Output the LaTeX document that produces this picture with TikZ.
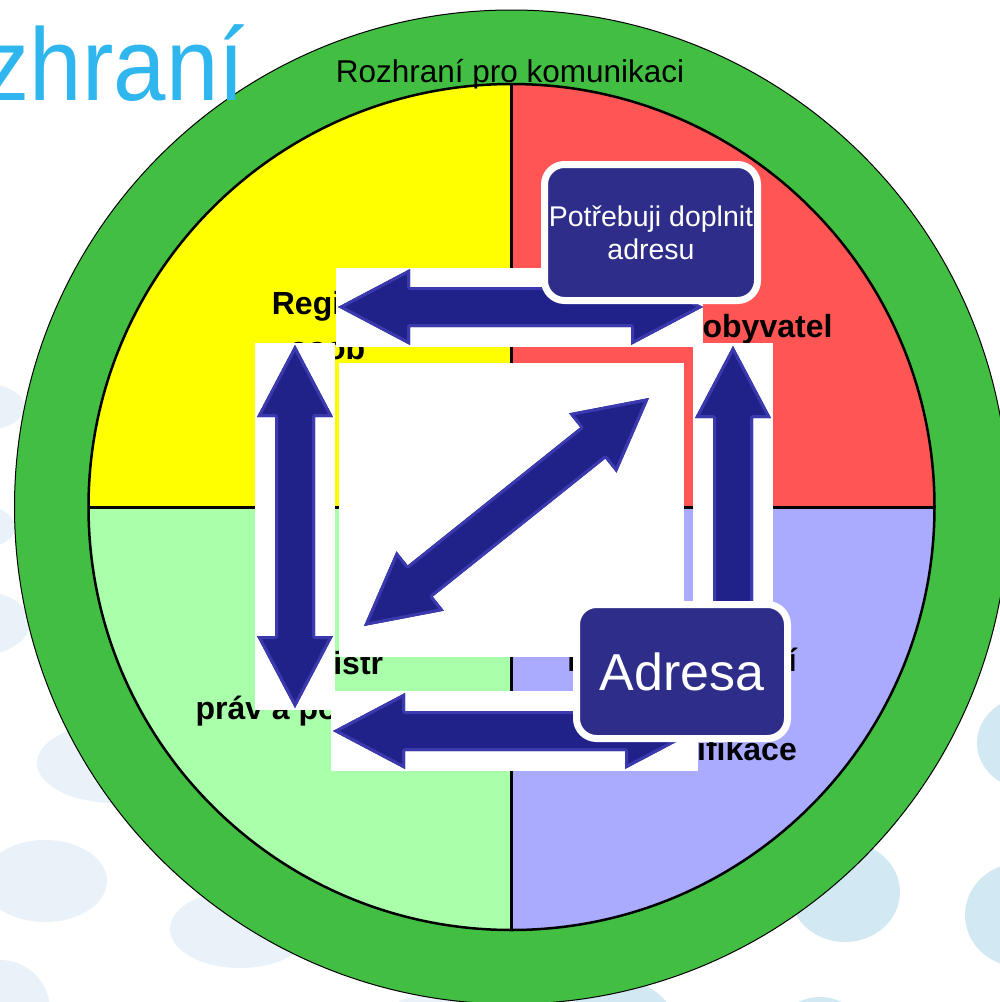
\documentclass[tikz,border=0pt]{standalone}
\usepackage{fontspec}
\setmainfont{Liberation Sans}
\usetikzlibrary{calc}
\definecolor{ringgreen}{HTML}{42BF42}
\definecolor{qyellow}{HTML}{FFFF00}
\definecolor{qred}{HTML}{FF5555}
\definecolor{qgreen}{HTML}{AAFFAA}
\definecolor{qblue}{HTML}{AAAAFF}
\definecolor{navy}{HTML}{2E2E8A}
\definecolor{titleblue}{HTML}{2FB6EE}
\definecolor{bubleft}{HTML}{EAF2F9}
\definecolor{bubright}{HTML}{D2E9F3}
\definecolor{arrfillc}{HTML}{21218A}
\definecolor{arredgec}{HTML}{3A3AAE}
\begin{document}
\begin{tikzpicture}[x=1pt,y=-1pt,
  qlabel/.style={font=\bfseries\fontsize{32}{45}\selectfont, align=center, inner sep=0pt, text=black},
  msgbox/.style={fill=navy, draw=white, line width=7pt, rounded corners=20pt, text=white, align=center, inner sep=0pt},
  arrfill/.style={fill=arrfillc},
  arredge/.style={draw=arredgec, line width=6pt, line join=round},
  whitebg/.style={fill=white},
  bubL/.style={fill=bubleft},
  bubR/.style={fill=bubright},
  dblarr/.pic={
    \fill[arrfill] (0,0) -- (72,38) -- (72,20) -- ({#1-72},20) -- ({#1-72},38) -- (#1,0)
      -- ({#1-72},-38) -- ({#1-72},-20) -- (72,-20) -- (72,-38) -- cycle;
    \begin{scope}
      \clip (0,0) -- (72,38) -- (72,20) -- ({#1-72},20) -- ({#1-72},38) -- (#1,0)
        -- ({#1-72},-38) -- ({#1-72},-20) -- (72,-20) -- (72,-38) -- cycle;
      \draw[arredge] (0,0) -- (72,38) -- (72,20) -- ({#1-72},20) -- ({#1-72},38) -- (#1,0)
        -- ({#1-72},-38) -- ({#1-72},-20) -- (72,-20) -- (72,-38) -- cycle;
    \end{scope}
  }]
\useasboundingbox (0,0) rectangle (1000,1002);
\begin{scope}
\clip (0,0) rectangle (1000,1002);
\fill[white] (0,0) rectangle (1000,1002);
% background bubbles
\fill[bubL] (-20,407) ellipse [x radius=45pt, y radius=24pt];
\fill[bubL] (-30,527) ellipse [x radius=45pt, y radius=24pt];
\fill[bubL] (-25,623) ellipse [x radius=55pt, y radius=33pt];
\fill[bubL] (115,763) ellipse [x radius=78pt, y radius=40pt];
\fill[bubL] (45,881) ellipse [x radius=62pt, y radius=41pt];
\fill[bubL] (240,929) ellipse [x radius=70pt, y radius=39pt];
\fill[bubL] (0,1010) ellipse [x radius=50pt, y radius=50pt];
\fill[bubL] (430,1040) ellipse [x radius=60pt, y radius=45pt];
\fill[bubR] (620,1040) ellipse [x radius=60pt, y radius=60pt];
\fill[bubR] (820,1047) ellipse [x radius=50pt, y radius=50pt];
\fill[bubR] (845,892) ellipse [x radius=55pt, y radius=50pt];
\fill[bubR] (1020,915) ellipse [x radius=55pt, y radius=52pt];
\fill[bubR] (1030,743) ellipse [x radius=53pt, y radius=47pt];
% ring and quadrants
\coordinate (C) at (511.5,507);
\filldraw[fill=ringgreen, draw=black, line width=1pt] (C) circle [radius=497pt];
\begin{scope}
\clip (C) circle [radius=423pt];
\fill[qyellow] (C) rectangle (60,60);
\fill[qred] (C) rectangle (960,60);
\fill[qgreen] (C) rectangle (60,960);
\fill[qblue] (C) rectangle (960,960);
\end{scope}
\draw[line width=2.5pt] (C) circle [radius=423pt];
\draw[line width=3pt] (88.5,507) -- (934.5,507);
\draw[line width=3pt] (511.5,84) -- (511.5,930);
% quadrant labels
\node[qlabel] (regosob) at (327,326) {Registr\\osob};
\node[qlabel, anchor=base] (regoby) at (708,337) {Registr obyvatel};
\node[qlabel] (regprav) at (328,689) {Registr\\práv a povinností};
\node[qlabel, align=right, anchor=east] (reguz) at (797,704) {Registr územní\\[44pt]identifikace};
% white backgrounds of the arrows
\fill[whitebg] (336,268) rectangle (703,347);
\fill[whitebg] (255,343) rectangle (335,710);
\fill[whitebg] (693,343) rectangle (773,710);
\fill[whitebg] (331,691) rectangle (698,771);
\fill[whitebg] (339,363) rectangle (684,657);
% arrows
\coordinate (topL) at (338,307);
\coordinate (leftT) at (295,345);
\coordinate (rightT) at (733,346);
\coordinate (botL) at (333,731);
\coordinate (diagLL) at (364,626);
\pic at (topL) {dblarr=365};
\pic[rotate=-90] at (leftT) {dblarr=363};
\pic[rotate=-90] at (rightT) {dblarr=363};
\pic at (botL) {dblarr=364};
\pic[rotate=38.66] at (diagLL) {dblarr=365};
% title
\node[anchor=base east, inner sep=0pt, text=titleblue, font=\fontsize{103}{110}\selectfont, xscale=0.915, transform shape] (title) at (245,100) {Rozhraní};
% message boxes
\node[msgbox, minimum width=213pt, minimum height=136pt, font=\fontsize{28.5}{33}\selectfont] (need) at (651,232.5) {Potřebuji doplnit\\adresu};
\node[msgbox, minimum width=211pt, minimum height=134pt, font=\fontsize{52}{60}\selectfont] (adresa) at (682,671.5) {Adresa};
% ring label
\node[anchor=base, inner sep=0pt, font=\fontsize{31.5}{36}\selectfont] (ringlabel) at (510,82) {Rozhraní pro komunikaci};
\end{scope}
\end{tikzpicture}
\end{document}
